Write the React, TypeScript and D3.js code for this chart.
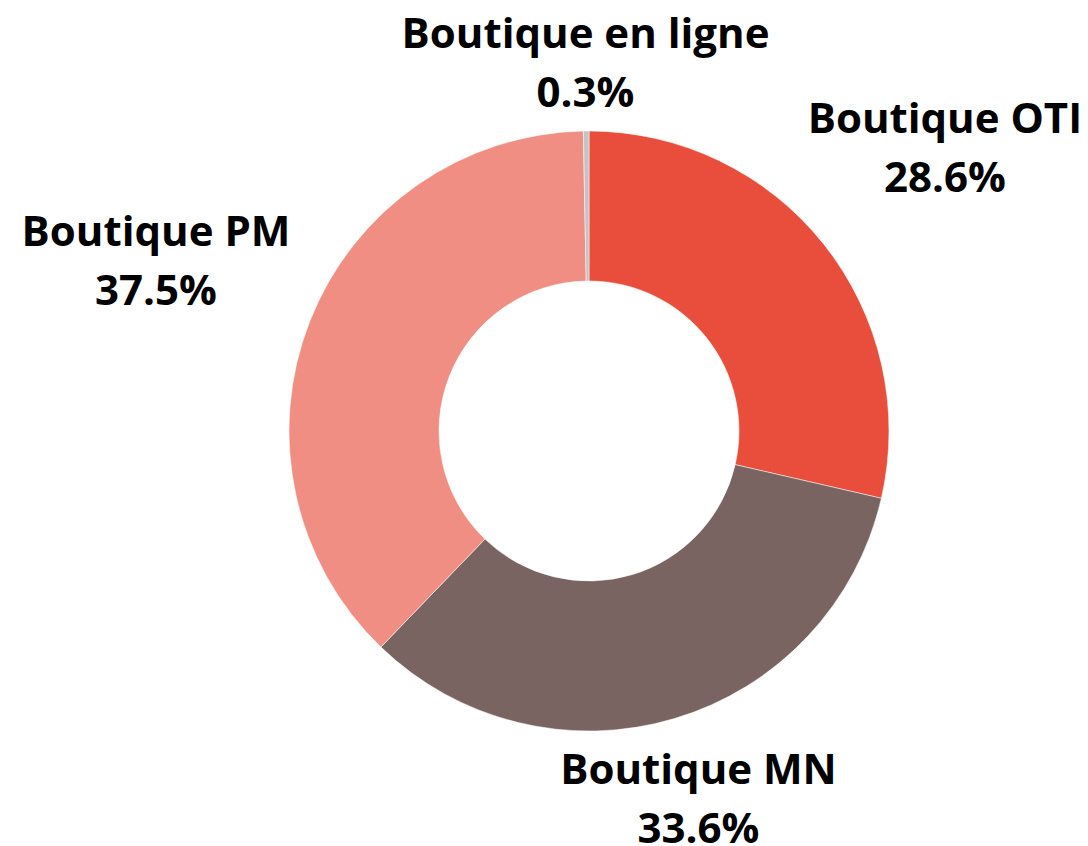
import React, { useEffect, useRef } from 'react'
import * as d3 from 'd3'

const categories = ['Boutique OTI', 'Boutique MN', 'Boutique PM', 'Boutique en ligne']
const shares = [28.6, 33.6, 37.5, 0.3]
const colors = ['#E84E3B', '#7A6461', '#F08E83', '#C4C4C4']

const W = 1088
const H = 846

export default function App() {
  const ref = useRef<SVGSVGElement>(null)

  useEffect(() => {
    const svg = d3.select(ref.current)
    svg.selectAll('*').remove()

    const cx = 589
    const cy = 431
    const outer = 300
    const inner = 150
    const labelGap = 24
    const fontSize = 42
    const lineStep = 59
    const capH = fontSize * 0.7

    const data = categories.map((c, i) => ({ name: c, value: shares[i] }))
    const pie = d3.pie<{ name: string; value: number }>().sort(null).value(d => d.value)
    const arc = d3.arc<d3.PieArcDatum<{ name: string; value: number }>>()
      .innerRadius(inner).outerRadius(outer)

    const g = svg.append('g').attr('transform', `translate(${cx},${cy})`)
    const arcs = pie(data)

    g.selectAll('path')
      .data(arcs)
      .enter()
      .append('path')
      .attr('d', arc)
      .attr('fill', (d, i) => colors[i])
      .attr('stroke', '#fff')
      .attr('stroke-width', 0.5)

    // labels: box centred on the mid-angle ray, pushed out until its nearest point clears the ring
    arcs.forEach(d => {
      const mid = (d.startAngle + d.endAngle) / 2
      const ux = Math.sin(mid)
      const uy = -Math.cos(mid)
      const t = g.append('text')
        .attr('text-anchor', 'middle')
        .attr('font-family', '"Open Sans", sans-serif')
        .attr('font-weight', 'bold')
        .attr('font-size', fontSize)
        .attr('fill', '#000')
      t.append('tspan').attr('x', 0).attr('y', 0).text(d.data.name)
      t.append('tspan').attr('x', 0).attr('y', lineStep).text(`${d.data.value}%`)
      const node = t.node() as SVGTextElement
      const spans = node.querySelectorAll('tspan')
      const bw = Math.max(
        (spans[0] as SVGTSpanElement).getComputedTextLength(),
        (spans[1] as SVGTSpanElement).getComputedTextLength()
      )
      const bh = lineStep + capH
      const hw = bw / 2
      const hh = bh / 2
      const distTo = (px: number, py: number) => {
        const dx = Math.max(Math.abs(px) - hw, 0)
        const dy = Math.max(Math.abs(py) - hh, 0)
        return Math.hypot(dx, dy)
      }
      let lo = 0
      let hi = 1000
      for (let k = 0; k < 60; k++) {
        const m = (lo + hi) / 2
        if (distTo(ux * m, uy * m) < outer + labelGap) lo = m
        else hi = m
      }
      const bx = ux * hi
      const by = uy * hi
      // box top is cap top of first line
      t.attr('transform', `translate(${bx},${by - hh + capH})`)
    })
  }, [])

  return (
    <svg
      ref={ref}
      width={W}
      height={H}
      style={{ position: 'absolute', left: 0, top: 0, background: '#fff' }}
    />
  )
}
